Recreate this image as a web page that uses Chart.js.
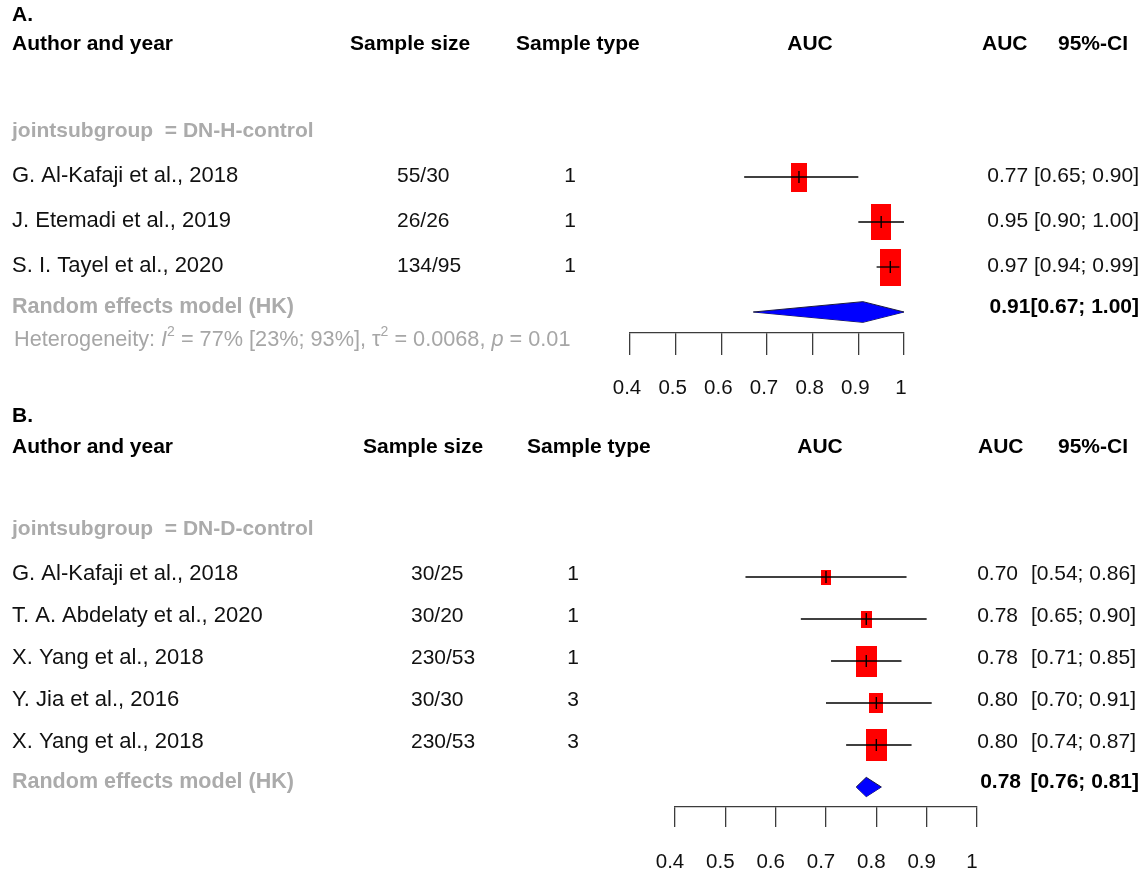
<!DOCTYPE html>
<html>
<head>
<meta charset="utf-8">
<title>AUC forest plots</title>
<script src="https://cdn.jsdelivr.net/npm/chart.js@4.4.1/dist/chart.umd.min.js"></script>
<style>
  html, body { margin: 0; padding: 0; background: #ffffff; }
  #wrap { position: relative; width: 1145px; height: 873px; overflow: hidden; background: #ffffff; }
  #wrap canvas { position: absolute; left: 0; top: 0; }
</style>
</head>
<body>
<div id="wrap">
  <canvas id="panelA" width="1145" height="873"></canvas>
  <canvas id="panelB" width="1145" height="873"></canvas>
</div>
<script>
// ---- Panel A: DN vs healthy controls ----
const studiesA = ['G. Al-Kafaji et al., 2018', 'J. Etemadi et al., 2019', 'S. I. Tayel et al., 2020'];
const sizesA   = ['55/30', '26/26', '134/95'];
const typesA   = ['1', '1', '1'];
const aucA     = [0.77, 0.95, 0.97];
const lowerA   = [0.65, 0.90, 0.94];
const upperA   = [0.90, 1.00, 0.99];
const weightsA = [24, 37, 39];
const pooledA  = [0.91, 0.67, 1.00];   // estimate, lower, upper
const hetA     = ['77%', '[23%; 93%]', '0.0068', '0.01'];  // I2, I2 CI, tau2, p

// ---- Panel B: DN vs diabetic controls ----
const studiesB = ['G. Al-Kafaji et al., 2018', 'T. A. Abdelaty et al., 2020', 'X. Yang et al., 2018', 'Y. Jia et al., 2016', 'X. Yang et al., 2018'];
const sizesB   = ['30/25', '30/20', '230/53', '30/30', '230/53'];
const typesB   = ['1', '1', '1', '3', '3'];
const aucB     = [0.70, 0.78, 0.78, 0.80, 0.80];
const lowerB   = [0.54, 0.65, 0.71, 0.70, 0.74];
const upperB   = [0.86, 0.90, 0.85, 0.91, 0.87];
const weightsB = [8, 10, 33, 14, 35];
const pooledB  = [0.78, 0.76, 0.81];

// ---- Shared axis ----
const tickValues = [0.4, 0.5, 0.6, 0.7, 0.8, 0.9, 1.0];
const tickLabels = ['0.4', '0.5', '0.6', '0.7', '0.8', '0.9', '1'];

const FONT = '"Liberation Sans", Arial, Helvetica, sans-serif';
const GREY = '#ababab';
const W = 1145, H = 873;
const AXIS_BAND = 90;        // height reserved under the axis line
const BOX_HALF_X = 0.0036;   // box half-width in AUC units per sqrt(weight)
const BOX_Y = 0.13;          // box height in row units per sqrt(weight)
const DIAMOND_H = 0.23;      // half-height of the pooled diamond in row units

function setFont(ctx, size, bold, italic) {
  ctx.font = (italic ? 'italic ' : '') + (bold ? 'bold ' : '') + size + 'px ' + FONT;
}
function text(ctx, s, x, y, o) {
  o = o || {};
  setFont(ctx, o.size || 22, o.bold, o.italic);
  ctx.fillStyle = o.color || '#111111';
  ctx.textAlign = o.align || 'left';
  ctx.textBaseline = 'middle';
  ctx.fillText(s, x, y);
}
// Run of text pieces with italic / superscript parts
function richText(ctx, parts, x, y, size, color) {
  ctx.fillStyle = color;
  ctx.textAlign = 'left';
  ctx.textBaseline = 'middle';
  let cx = x;
  parts.forEach(p => {
    const sz = p.sup ? Math.round(size * 0.66) : size;
    setFont(ctx, sz, false, p.italic);
    ctx.fillText(p.t, cx, p.sup ? y - size * 0.36 : y);
    cx += ctx.measureText(p.t).width;
  });
}

function forestChart(canvasId, d) {
  const n = d.auc.length;
  const rows = d.auc.map((_, i) => i + 1);
  const pooledRow = n + 1;

  const boxStyle = (c) => {
    const xs = c.chart.scales.x, ys = c.chart.scales.y;
    const i = c.dataIndex;
    if (!xs || !ys || i === undefined) return 'rect';
    const s = Math.sqrt(d.weights[i]);
    const w = Math.abs(xs.getPixelForValue(d.auc[i] + BOX_HALF_X * s) - xs.getPixelForValue(d.auc[i] - BOX_HALF_X * s));
    const h = Math.abs(ys.getPixelForValue(0) - ys.getPixelForValue(BOX_Y * s));
    const cv = document.createElement('canvas');
    cv.width = Math.max(2, Math.round(w));
    cv.height = Math.max(2, Math.round(h));
    const g = cv.getContext('2d');
    g.fillStyle = '#ff0000';
    g.fillRect(0, 0, cv.width, cv.height);
    return cv;
  };

  const datasets = [];
  // study estimate tick marks
  datasets.push({
    type: 'line', showLine: false, order: 0, clip: false,
    data: d.auc.map((v, i) => ({ x: v, y: rows[i] })),
    pointStyle: 'line', rotation: 90, pointRadius: d.tick, pointBorderWidth: 1.4,
    pointBorderColor: '#000000', pointBackgroundColor: '#000000'
  });
  // confidence interval segments
  d.auc.forEach((v, i) => {
    datasets.push({
      type: 'line', order: 1, clip: false,
      data: [{ x: d.lower[i], y: rows[i] }, { x: d.upper[i], y: rows[i] }],
      borderColor: '#000000', borderWidth: 1.3, pointRadius: 0, fill: false
    });
  });
  // weighted boxes
  datasets.push({
    type: 'line', showLine: false, order: 2, clip: false,
    data: d.auc.map((v, i) => ({ x: v, y: rows[i] })),
    pointStyle: boxStyle, pointRadius: 6, pointBorderWidth: 0
  });
  // pooled diamond: upper and lower halves, filled between them
  datasets.push({
    type: 'line', order: 3, clip: false,
    data: [{ x: d.pooled[1], y: pooledRow }, { x: d.pooled[0], y: pooledRow - DIAMOND_H }, { x: d.pooled[2], y: pooledRow }],
    borderColor: '#1a1a40', borderWidth: 1, pointRadius: 0, tension: 0,
    fill: '+1', backgroundColor: '#0000ff'
  });
  datasets.push({
    type: 'line', order: 3, clip: false,
    data: [{ x: d.pooled[1], y: pooledRow }, { x: d.pooled[0], y: pooledRow + DIAMOND_H }, { x: d.pooled[2], y: pooledRow }],
    borderColor: '#1a1a40', borderWidth: 1, pointRadius: 0, tension: 0, fill: false
  });

  const rowUnit = d.rowUnit;
  const top = d.firstRow - rowUnit / 2;
  const yMax = 0.5 + (d.axisY - top) / rowUnit;

  const labelsPlugin = {
    id: 'columns' + canvasId,
    afterDraw(chart) {
      const ctx = chart.ctx;
      const ys = chart.scales.y;
      ctx.save();
      d.drawText(ctx, (r) => ys.getPixelForValue(r), rows, pooledRow);
      ctx.restore();
    }
  };

  return new Chart(document.getElementById(canvasId), {
    type: 'line',
    data: { datasets },
    options: {
      responsive: false,
      animation: false,
      events: [],
      layout: { padding: { left: d.x0, right: W - d.x1, top: top, bottom: Math.max(0, H - d.axisY - AXIS_BAND) } },
      plugins: { legend: { display: false }, tooltip: { enabled: false } },
      scales: {
        x: {
          type: 'linear', position: 'bottom', min: 0.4, max: 1.0,
          afterBuildTicks: (s) => { s.ticks = tickValues.map(v => ({ value: v })); },
          afterFit: (s) => { s.height = Math.min(AXIS_BAND, H - d.axisY); },
          grid: { drawOnChartArea: false, drawTicks: true, tickLength: d.tickLen, color: '#3c3c3c', lineWidth: 1.3 },
          border: { display: true, color: '#3c3c3c', width: 1.3 },
          ticks: {
            autoSkip: false, maxRotation: 0, padding: d.labelPad, labelOffset: d.labelShift,
            color: '#111111', font: { family: FONT, size: 20.5 },
            callback: (v, i) => tickLabels[i]
          }
        },
        y: { type: 'linear', display: false, reverse: true, min: 0.5, max: yMax }
      }
    },
    plugins: [labelsPlugin]
  });
}

// Panel A
forestChart('panelA', {
  auc: aucA, lower: lowerA, upper: upperA, weights: weightsA, pooled: pooledA,
  x0: 630, x1: 904, firstRow: 177, rowUnit: 45, axisY: 333,
  tickLen: 22, labelPad: 21, labelShift: -3, tick: 6,
  drawText(ctx, py, rows, pooledRow) {
    text(ctx, 'A.', 12, 15, { size: 21, bold: true, color: '#000' });
    const hy = 44;
    text(ctx, 'Author and year', 12, hy, { size: 21, bold: true, color: '#000' });
    text(ctx, 'Sample size', 350, hy, { size: 21, bold: true, color: '#000' });
    text(ctx, 'Sample type', 516, hy, { size: 21, bold: true, color: '#000' });
    text(ctx, 'AUC', 810, hy, { size: 21, bold: true, color: '#000', align: 'center' });
    text(ctx, 'AUC', 982, hy, { size: 21, bold: true, color: '#000' });
    text(ctx, '95%-CI', 1128, hy, { size: 21, bold: true, color: '#000', align: 'right' });
    text(ctx, 'jointsubgroup  = DN-H-control', 12, 131, { size: 21, bold: true, color: GREY });
    studiesA.forEach((s, i) => {
      const y = py(rows[i]) - 1;
      text(ctx, s, 12, y, { size: 22 });
      text(ctx, sizesA[i], 397, y, { size: 21 });
      text(ctx, typesA[i], 570, y, { size: 21, align: 'center' });
      text(ctx, aucA[i].toFixed(2) + ' [' + lowerA[i].toFixed(2) + '; ' + upperA[i].toFixed(2) + ']', 1139, y, { size: 21, align: 'right' });
    });
    const ry = py(pooledRow) - 5;
    text(ctx, 'Random effects model (HK)', 12, ry, { size: 21.5, bold: true, color: GREY });
    text(ctx, pooledA[0].toFixed(2) + '[' + pooledA[1].toFixed(2) + '; ' + pooledA[2].toFixed(2) + ']', 1139, ry, { size: 21, bold: true, color: '#000', align: 'right' });
    richText(ctx, [
      { t: 'Heterogeneity: ' }, { t: 'I', italic: true }, { t: '2', sup: true },
      { t: ' = ' + hetA[0] + ' ' + hetA[1] + ', ' }, { t: '\u03C4' }, { t: '2', sup: true },
      { t: ' = ' + hetA[2] + ', ' }, { t: 'p', italic: true }, { t: ' = ' + hetA[3] }
    ], 14, 340, 21.7, '#a6a6a6');
  }
});

// Panel B
forestChart('panelB', {
  auc: aucB, lower: lowerB, upper: upperB, weights: weightsB, pooled: pooledB,
  x0: 675, x1: 977, firstRow: 577, rowUnit: 42, axisY: 807,
  tickLen: 20, labelPad: 23, labelShift: -5, tick: 6,
  drawText(ctx, py, rows, pooledRow) {
    text(ctx, 'B.', 12, 416, { size: 21, bold: true, color: '#000' });
    const hy = 447;
    text(ctx, 'Author and year', 12, hy, { size: 21, bold: true, color: '#000' });
    text(ctx, 'Sample size', 363, hy, { size: 21, bold: true, color: '#000' });
    text(ctx, 'Sample type', 527, hy, { size: 21, bold: true, color: '#000' });
    text(ctx, 'AUC', 820, hy, { size: 21, bold: true, color: '#000', align: 'center' });
    text(ctx, 'AUC', 978, hy, { size: 21, bold: true, color: '#000' });
    text(ctx, '95%-CI', 1128, hy, { size: 21, bold: true, color: '#000', align: 'right' });
    text(ctx, 'jointsubgroup  = DN-D-control', 12, 529, { size: 21, bold: true, color: GREY });
    studiesB.forEach((s, i) => {
      const y = py(rows[i]) - 3;
      text(ctx, s, 12, y, { size: 22 });
      text(ctx, sizesB[i], 411, y, { size: 21 });
      text(ctx, typesB[i], 573, y, { size: 21, align: 'center' });
      text(ctx, aucB[i].toFixed(2), 1018, y, { size: 21, align: 'right' });
      text(ctx, '[' + lowerB[i].toFixed(2) + '; ' + upperB[i].toFixed(2) + ']', 1136, y, { size: 21, align: 'right' });
    });
    const ry = py(pooledRow) - 5;
    text(ctx, 'Random effects model (HK)', 12, ry, { size: 21.5, bold: true, color: GREY });
    text(ctx, pooledB[0].toFixed(2), 1021, ry, { size: 21, bold: true, color: '#000', align: 'right' });
    text(ctx, '[' + pooledB[1].toFixed(2) + '; ' + pooledB[2].toFixed(2) + ']', 1139, ry, { size: 21, bold: true, color: '#000', align: 'right' });
  }
});
</script>
</body>
</html>
